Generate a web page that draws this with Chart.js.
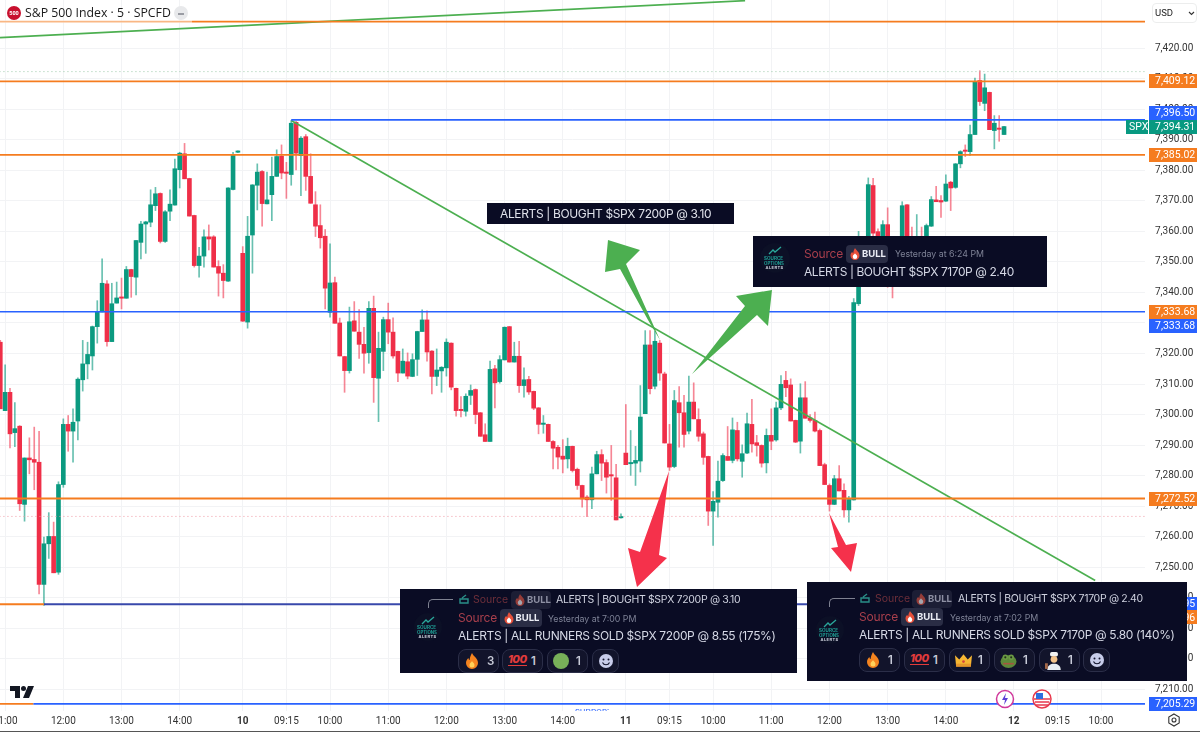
<!DOCTYPE html>
<html><head><meta charset="utf-8">
<script src="https://cdn.jsdelivr.net/npm/chart.js@4"></script>
<style>
html,body{margin:0;padding:0;background:#fff;width:1200px;height:732px;overflow:hidden;font-family:Roboto,sans-serif}
#wrap{position:relative;width:1200px;height:732px;overflow:hidden}
canvas{position:absolute;left:0;top:0}
#ov{position:absolute;left:0;top:0;width:1200px;height:732px}
#ov svg.abs{position:absolute;left:0;top:0}
.t{position:absolute;white-space:nowrap;line-height:20px;height:20px}
.box{position:absolute;box-sizing:border-box}
.c{font-family:Inter,sans-serif}
</style></head><body>
<div id="wrap"><canvas id="c" width="1200" height="731"></canvas><div id="ov"></div></div>
<script>
const open=[
7323.7,7301.3,7307.3,7294.1,7296.2,7270.6,7285.8,7285.3,7284.4,7244.4,
7257.7,7260.1,7248.4,7277.1,7296.8,7294.6,7297.9,7311.4,7316.6,7319.2,
7328.8,7333.6,7342.8,7323.9,7336.5,7338.3,7338.1,7347.5,7345,7356.4,
7362.4,7363,7368.4,7372.4,7356.7,7366.6,7368.6,7380.2,7385.4,7377.3,
7365.2,7348.8,7351.9,7358.2,7358.2,7348.5,7346.3,7343.7,7373.7,7385.9,
7352.8,7330.3,7358.8,7375.1,7379.6,7369,7372,7378,7384.6,7379.4,
7378.6,7395.7,7384.8,7391,7378,7368.7,7361.9,7358.4,7333.5,7343.2,
7330,7319,7314.4,7330.7,7327,7323,7320.3,7334.8,7311.9,7320.7,
7331.1,7327,7320.7,7313.6,7317.3,7312.5,7318.1,7327.2,7331,7320.8,
7312.5,7314.3,7315.3,7323.4,7308.6,7301.5,7301.1,7306.3,7308.2,7300.6,
7293.4,7291.2,7315,7310.8,7317.9,7328.8,7317.2,7319.1,7309.5,7311.5,
7307.6,7302.2,7296.8,7296.8,7291.2,7289.3,7286.4,7285.5,7289.6,7282.1,
7276.8,7273,7272.1,7280.6,7286.9,7284.3,7280.1,7279.3,7266.2,7287.4,
7283.9,7284.1,7284.8,7300.3,7322.8,7309.3,7323.4,7313.3,7290.4,7283,
7303.9,7300.6,7294.6,7304.1,7298.4,7293.7,7286.3,7268.4,7271.3,7278.4,
7286.3,7285,7294.8,7284.7,7287.4,7296.8,7290.8,7289.9,7284.2,7293.2,
7291.7,7302.2,7311.2,7309.7,7298.1,7291.3,7305.5,7298.9,7298.1,7294.8,
7283.6,7276.8,7270.6,7279,7275.2,7268.8,7272.1,7336.3,7349,7350.4,
7375,7359.9,7353.7,7362.2,7350.4,7346,7349.3,7368.7,7357.5,7352,
7357.5,7353.7,7361.7,7370.3,7370.1,7369.9,7376.1,7374.4,7382.1,7386.4,
7386.1,7391.7,7409.4,7401.9,7405.5,7393,7393.6,7391.7];
const high=[
7324.3,7316.3,7308.6,7303.9,7296.4,7285.8,7292.4,7295.9,7294.5,7259.9,
7267.9,7264.8,7278,7298.6,7299.7,7301.9,7312,7324.3,7323.7,7329,
7337.3,7351,7343.9,7343,7343.4,7344.7,7348.5,7347.6,7357,7363.3,
7363.3,7373.6,7374.4,7372.6,7366.8,7373.6,7383.7,7385.9,7388.8,7377.4,
7365.3,7354.8,7360.5,7362.1,7358.6,7350.4,7349.1,7374.3,7385.9,7386.4,
7355,7364.9,7375.3,7382.1,7379.9,7379.4,7384.3,7386.7,7388.3,7382.6,
7396.3,7396,7391,7391.7,7385.4,7373,7368.7,7360.6,7355.9,7345,
7331.6,7319.1,7335.2,7337,7334.4,7328.6,7337,7338.8,7327,7331.9,
7336.5,7331.7,7320.8,7321.5,7320.2,7319.9,7327.3,7334.3,7334,7321,
7321.5,7315.7,7324.8,7323.5,7308.7,7305.9,7306.8,7309.7,7308.4,7300.7,
7297,7317.5,7316.1,7319.3,7328.7,7328.9,7323.7,7324,7315.3,7312.5,
7307.7,7302.3,7299.7,7296.9,7291.5,7289.9,7291.8,7292.3,7289.7,7282.5,
7276.9,7273.5,7282.8,7288,7288.5,7285.2,7289.9,7283.7,7267.5,7303.3,
7294.8,7289.6,7309.5,7327.5,7327.5,7327.3,7324.3,7313.9,7296.8,7307.9,
7309.2,7306.3,7312.6,7310.4,7301.9,7294.3,7286.4,7274.8,7284.8,7287.2,
7296.1,7298.9,7297.5,7290.1,7300.5,7305,7293.2,7290.1,7295.3,7301.9,
7304.1,7312.8,7314.2,7311.7,7298.2,7310.1,7310.8,7300,7300.8,7295.3,
7284.1,7277.3,7280.1,7283.3,7277.3,7273.2,7338,7360,7357,7377.5,
7377.4,7360.8,7363.5,7367.7,7354.8,7355,7369.7,7368.8,7361.4,7365.5,
7361.4,7362.4,7371.4,7374.7,7371.7,7378.5,7376.4,7382.2,7386.4,7388.3,
7394.8,7410.2,7412.6,7411.5,7405.6,7397.9,7397.9,7394.4];
const low=[
7301.9,7301.3,7289.1,7289.5,7268.6,7265.1,7280.6,7275.4,7241.3,7237.5,
7252.9,7248.2,7247.7,7276.2,7288,7284.4,7291.7,7307.7,7311.7,7314.6,
7323.4,7333.6,7322.4,7323.9,7336.5,7334.6,7338.1,7338.4,7339.2,7351,
7352.8,7361.5,7366.8,7356.2,7356.4,7363.5,7368.6,7374.2,7377.2,7365,
7348.3,7345,7348.3,7353.9,7348.3,7338.8,7338.2,7343.6,7373.6,7385.8,
7330.5,7328.3,7346.3,7367,7361.7,7369,7363.5,7378,7377.2,7370.8,
7375.1,7380.1,7371.7,7373.4,7369.2,7358.3,7354.5,7334.6,7331.9,7329.9,
7319.2,7307.3,7313.6,7327.3,7318.4,7313.6,7316.8,7304,7297.7,7314.4,
7323.2,7318.5,7310.8,7313.6,7311.7,7312.4,7312.8,7327.2,7317.5,7306.8,
7309.5,7307.3,7312.6,7308.1,7299.5,7299.2,7299.5,7303.3,7297,7292.9,
7291.2,7291.2,7302.2,7310.3,7317.9,7317.2,7317.2,7307.3,7305.7,7306.6,
7301.6,7293.7,7293.9,7291.2,7282.2,7282.2,7280.9,7282.5,7281.2,7275.5,
7269.7,7266.6,7269.2,7280.6,7278.4,7274.3,7271.9,7265.5,7266.1,7283.6,
7280.1,7276.8,7281.2,7300.3,7306.8,7308.4,7311.2,7290.7,7281.7,7282.6,
7289.3,7289.3,7293.7,7298.6,7291.3,7283.7,7263.7,7257.2,7266.4,7278.1,
7285,7284.2,7284.8,7279.5,7287.2,7287.7,7286.4,7282.8,7280.9,7288.5,
7291.3,7301.6,7305.9,7297.9,7290.8,7287.4,7298.8,7297.5,7294.3,7283.3,
7277.1,7268.4,7270.5,7275,7266.4,7264.8,7272,7335.7,7346,7349,
7358.5,7351.5,7351.5,7341.7,7338.2,7345,7347.2,7349.3,7351.5,7351,
7352,7353.2,7361.6,7369.7,7364.6,7369.8,7366.8,7374.1,7380.8,7384.5,
7384.9,7391.7,7401.2,7399.5,7393.3,7387,7389.5,7391.7];
const close=[
7301.9,7307.3,7293.7,7295.4,7270.8,7285.8,7285.2,7284.4,7244.4,7257.7,
7260.1,7248.2,7277.1,7296.8,7294.6,7297.5,7311.6,7316.6,7319.7,7328.8,
7333.6,7343,7323.9,7336.3,7338.2,7338.1,7347.5,7345.2,7357,7362.4,
7363.1,7368.7,7372.3,7356.7,7366.4,7368.9,7380.5,7385.6,7377.2,7365,
7348.8,7351.9,7358.2,7357.5,7348.3,7346.3,7343.9,7374.2,7385,7386.3,
7330.6,7358.4,7375.2,7379.4,7369.1,7370.3,7378,7384.5,7379.1,7379,
7395.4,7385.6,7390.5,7378,7369.2,7361.7,7357.9,7341.4,7343.1,7329.9,
7319.2,7314.4,7330.4,7327.3,7323,7320.1,7334.8,7312.1,7321.7,7331.1,
7327,7319.2,7313.6,7317.5,7312.6,7318,7327.2,7331,7320.5,7312.5,
7314.6,7315.5,7323.7,7309,7301.3,7301.3,7306,7307.9,7300,7292.9,
7291.2,7314.8,7310.4,7318,7328.6,7317.2,7319.1,7309.5,7311.4,7307.4,
7302.1,7296.8,7297.2,7291.2,7289,7286.1,7285.4,7289.6,7281.7,7276.8,
7272.4,7272.1,7280.6,7286.9,7284.1,7279.5,7279.9,7265.5,7266.6,7283.6,
7284.1,7285,7299.2,7322.8,7308.5,7324,7313.6,7290.7,7282.8,7304.6,
7300.6,7293.5,7304.1,7298.6,7292.9,7286,7268.4,7271.6,7278.2,7286.6,
7285,7295,7285.5,7287.2,7297,7290.4,7289.9,7284.1,7293.2,7291.3,
7302.2,7309.9,7308.8,7297.9,7291,7305.5,7298.8,7298.1,7294.6,7283.3,
7277.1,7270.6,7279,7275,7268.8,7272.2,7336.7,7358.1,7356,7375.3,
7359.4,7354.8,7362.2,7352.6,7345,7352,7368.4,7351.5,7352.6,7357.5,
7353,7361.9,7370.4,7369.7,7369.6,7375.5,7374.2,7382.1,7386.1,7386.2,
7391.7,7409,7402.5,7407,7393.3,7395.4,7393.4,7394.31];

// axis ticks: position in candle units, and their text
const xTickAt=[1,13,25,37,50,59,68,80,92,104,116,129,138,147,159,171,183,195,209,218,227];
const xTickText=["11:00","12:00","13:00","14:00","10","09:15","10:00","11:00","12:00","13:00","14:00","11","09:15","10:00","11:00","12:00","13:00","14:00","12","09:15","10:00"];
const dayLabels=["10","11","12"];
const yTickValues=[7210,7220,7230,7240,7250,7260,7270,7280,7290,7300,7310,7320,7330,7340,7350,7360,7370,7380,7390,7400,7410,7420];

// horizontal levels: price, from candle, to candle
const orangeLevels=[[7428.7,-1,240],[7409.12,-1,240],[7385.02,-1,240],[7272.52,-1,240],[7237.9,-1,9],[7205.29,-1,6.8]];
const blueLevels=[[7396.5,60,240],[7333.68,-1,240],[7205.29,6.8,240]];
const indigoLevels=[[7237.9,9,240]];
const dottedGreen=[7412.3];
const dottedRed=[7266.66];
// trend lines: [candle, price]
const trendUp=[[-0.06,7423.44],[153.6,7435.55]];
const trendDown=[[60,7396.3],[225.8,7245.7]];

// right-hand labels: text, price where drawn, colour
const tagText=["7,409.12","7,396.50","7,394.31","7,385.02","7,333.68","7,333.68","7,272.52","7,237.95","7,237.96","7,205.29"];
const tagAt=[7409.12,7398.8,7394.31,7385.02,7333.68,7329.1,7272.52,7237.9,7233.6,7205.29];
const tagColor=["#f57c1f","#2962ff","#089981","#f57c1f","#f57c1f","#2962ff","#f57c1f","#2962ff","#f57c1f","#2962ff"];

const GREEN="#0b9a80",RED="#ef2f48";
const idx=open.map((_,i)=>i);
const up=idx.map(i=>close[i]>=open[i]);
const levelDs=(list,color,width)=>list.map(l=>({type:'line',data:[{x:l[1],y:l[0]},{x:l[2],y:l[0]}],borderColor:color,borderWidth:width,pointRadius:0,order:0}));

const tagPlugin={id:'tags',afterDraw(ch){
  const c=ch.ctx,y=ch.scales.y;c.save();
  c.font='10.5px Roboto';c.textBaseline='middle';
  tagText.forEach((s,i)=>{
    const py=y.getPixelForValue(tagAt[i]);
    c.fillStyle=tagColor[i];c.fillRect(1149,Math.round(py-7),48,14);
    c.fillStyle='#fff';c.textAlign='left';c.fillText(s,1155,py+0.5);
  });
  const py=y.getPixelForValue(7394.31);
  c.fillStyle='#089981';c.fillRect(1126,Math.round(py-7),22,14);
  c.fillStyle='#fff';c.fillText('SPX',1129,py+0.5);
  c.restore();
}};

new Chart(document.getElementById('c'),{
 data:{datasets:[
  {type:'bar',grouped:false,order:3,barThickness:1,data:idx.map(i=>({x:i,y:[low[i],high[i]]})),
   backgroundColor:idx.map(i=>up[i]?'rgba(11,154,128,.62)':'rgba(239,47,72,.58)')},
  {type:'bar',grouped:false,order:2,barThickness:4,minBarLength:1.3,data:idx.map(i=>({x:i,y:[open[i],close[i]]})),
   backgroundColor:idx.map(i=>up[i]?GREEN:RED)},
  ...levelDs(orangeLevels,'#f57c1f',1.8),
  ...levelDs(blueLevels,'#2962ff',1.6),
  ...levelDs(indigoLevels,'#3949ab',1.8),
  ...dottedGreen.map(p=>({type:'line',data:[{x:-1,y:p},{x:240,y:p}],borderColor:'#9cc9a8',borderWidth:1,borderDash:[1,3],pointRadius:0,order:1})),
  ...dottedRed.map(p=>({type:'line',data:[{x:-1,y:p},{x:240,y:p}],borderColor:'#ef9aa5',borderWidth:1,borderDash:[1,3],pointRadius:0,order:1})),
  {type:'line',data:trendUp.map(p=>({x:p[0],y:p[1]})),borderColor:'#4caf50',borderWidth:1.6,pointRadius:0,order:0},
  {type:'line',data:trendDown.map(p=>({x:p[0],y:p[1]})),borderColor:'#4caf50',borderWidth:1.6,pointRadius:0,order:0}
 ]},
 options:{responsive:false,animation:false,events:[],layout:{padding:0},
  plugins:{legend:{display:false},tooltip:{enabled:false}},
  scales:{
   x:{type:'linear',offset:false,min:-0.06,max:236.07,
    afterBuildTicks(s){s.ticks=xTickAt.map(v=>({value:v}))},
    afterFit(s){s.height=20;s.paddingLeft=0;s.paddingRight=0},
    grid:{offset:false,color:'#f2f3f5',lineWidth:1,drawTicks:false},border:{display:false},
    ticks:{autoSkip:false,maxRotation:0,minRotation:0,padding:4,color:'#333',
     font:c=>({family:'Roboto',size:10,weight:c.tick&&dayLabels.includes(xTickText[xTickAt.indexOf(c.tick.value)])?'bold':'normal'}),
     callback:v=>xTickText[xTickAt.indexOf(v)]}},
   y:{type:'linear',position:'right',min:7202.95,max:7435.75,
    afterBuildTicks(s){s.ticks=yTickValues.map(v=>({value:v}))},
    afterFit(s){s.width=55;s.paddingTop=0;s.paddingBottom=0},
    grid:{color:'#f2f3f5',lineWidth:1,drawTicks:false},border:{display:false},
    ticks:{autoSkip:false,padding:10,color:'#333',font:{family:'Roboto',size:10},
     callback:v=>v.toLocaleString('en-US',{minimumFractionDigits:2,maximumFractionDigits:2})}}
  }},
 plugins:[tagPlugin]
});

// ---- overlay: screenshot furniture, callout cards, arrows
const flame=(s)=>`<svg width="${s}" height="${s}" viewBox="0 0 16 16" style="position:absolute"><path d="M8 0c1 3 6 5 6 10a6 6 0 0 1-12 0c0-2 1-4 2.500-5 0 1 .5 2 1.200 2C5.700 4 7 2 8 0z" fill="#f5841f"/><path d="M8 8c.5 1.500 2.500 2 2.500 4a2.500 2.500 0 0 1-5 0c0-2 2-2.500 2.500-4z" fill="#ffd25a"/></svg>`;
const bflame=(s)=>`<svg width="${s}" height="${s}" viewBox="0 0 16 16" style="position:absolute"><path d="M8 0c1 3 6 5 6 10a6 6 0 0 1-12 0c0-2 1-4 2.500-5 0 1 .5 2 1.200 2C5.700 4 7 2 8 0z" fill="#e8503a"/><path d="M8 7c.5 1.500 3 2 3 4.500a3 3 0 0 1-6 0c0-2.500 2.500-3 3-4.500z" fill="#fff"/></svg>`;
const T=(x,y,s,size,col,extra='')=>`<div class="t c" style="left:${x}px;top:${y-10}px;font-size:${size}px;color:${col};${extra}">${s}</div>`;
const B=(x,y,w,h,st)=>`<div class="box" style="left:${x}px;top:${y}px;width:${w}px;height:${h}px;${st}"></div>`;
const badge=(x,y,w,dim)=>B(x,y-9,w,18,`background:${dim?'#1c1e35':'#2a2d45'};border-radius:4px`)+
  `<div style="position:absolute;left:${x+3}px;top:${y-6}px;opacity:${dim?.6:1}">${bflame(12)}</div>`+
  T(x+16,y,'BULL',9.5,dim?'#8e90a3':'#eceef6','font-weight:700;');
const logo=(cx,cy,r)=>B(cx-r,cy-r,2*r,2*r,'background:#0c1026;border-radius:50%')+
  `<svg class="abs" style="left:${cx-7}px;top:${cy-r+3}px;position:absolute" width="14" height="9" viewBox="0 0 14 9"><path d="M1 8 5 4l2 2 6-5" fill="none" stroke="#2aa79b" stroke-width="1.300"/></svg>`+
  T(cx-11,cy+1,'SOURCE',4.6,'#1f9c93','font-weight:700;')+T(cx-11,cy+5.5,'OPTIONS',4.4,'#1f9c93','font-weight:700;')+T(cx-9.5,cy+10,'ALERTS',4,'#cfd3de','font-weight:700;letter-spacing:.4px;');
const reply=(x0,x1,yTop,yBot)=>B(x0,yTop,x1-x0,yBot-yTop,'border-left:1.200px solid #7f8291;border-top:1.200px solid #7f8291;border-top-left-radius:5px');
const smile=`<svg width="16" height="16" viewBox="0 0 16 16" style="position:absolute"><circle cx="8" cy="8" r="7" fill="#c8cdea"/><circle cx="5.500" cy="6.500" r="1" fill="#14162e"/><circle cx="10.500" cy="6.500" r="1" fill="#14162e"/><path d="M4.500 9.500a3.800 3.800 0 0 0 7 0" stroke="#14162e" stroke-width="1.100" fill="none"/></svg>`;
const crown=`<svg width="17" height="17" viewBox="0 0 16 16" style="position:absolute"><path d="M1 13 0 3l4 4 4-5 4 5 4-4-1 10z" fill="#f7b733"/><rect x="1" y="11" width="14" height="3" fill="#e5962b"/><circle cx="8" cy="9" r="1.300" fill="#d9453c"/></svg>`;
const frog=`<svg width="17" height="17" viewBox="0 0 16 16" style="position:absolute"><ellipse cx="8" cy="9" rx="7.500" ry="6" fill="#5d8a3a"/><circle cx="5" cy="5" r="2.600" fill="#6b9b44"/><circle cx="10.500" cy="5" r="2.600" fill="#6b9b44"/><circle cx="5" cy="5" r="1" fill="#22301b"/><circle cx="10.500" cy="5" r="1" fill="#22301b"/><path d="M3 11h10" stroke="#a6553f" stroke-width="1.500"/></svg>`;
const chef=`<svg width="18" height="18" viewBox="0 0 16 16" style="position:absolute"><rect x="4.500" y="0" width="7" height="4" rx="1.500" fill="#f3f3f3"/><circle cx="8" cy="6.500" r="3" fill="#f4c38a"/><path d="M2 16c0-4 3-5.500 6-5.500s6 1.500 6 5.500z" fill="#e9edf2"/><rect x="0" y="10" width="2.500" height="5" fill="#a5694a"/></svg>`;
const hundred=`<span style="position:absolute;font:italic 800 11px/11px Inter;color:#e23b3b;border-bottom:1.500px solid #e23b3b;letter-spacing:-.5px;top:1px">100</span>`;
const greenDot=`<svg width="16" height="16" viewBox="0 0 16 16" style="position:absolute"><circle cx="8" cy="8" r="8" fill="#78b159"/></svg>`;
const pill=(x,w,y,icon,n)=>B(x,y,w,24,'background:#12142b;border:1px solid #2b2e48;border-radius:8px')+
  `<div style="position:absolute;left:${n?x+6:x+6}px;top:${y+4}px;width:18px;height:18px">${icon}</div>`+(n?T(x+29,y+12,n,11.5,'#c8cbd8','font-weight:600;'):'');
const bg='#0a0c24';
const LS='letter-spacing:-.36px;';
let h='';
// arrows
h+=`<svg class="abs" width="1200" height="732">
<polygon points="669,471 659,555 667,558 637,587 628,548 640,552" fill="#f5314b"/>
<polygon points="829,513 846,545 857,543 851,572 831,548 838,547" fill="#f5314b"/>
<polygon points="660,340 626,264 640,250 608,240 605,272 620,269 648,320" fill="#4caf50"/>
<polygon points="692,374 757,315 768,326 772,290 736,296 745,306" fill="#4caf50"/>
</svg>`;
// header
h+=B(0,19.5,192,3,'background:rgba(255,255,255,.45)');
h+=B(7,6,14,14,'background:#c8102e;border-radius:50%');
h+=`<div class="t" style="left:7px;top:3px;width:14px;text-align:center;font:700 5.5px/20px Roboto;color:#fff">500</div>`;
h+=`<div class="t" style="left:25px;top:3px;font:12.3px/20px 'Open Sans';color:#1a1a1a">S&amp;P 500 Index · 5 · SPCFD</div>`;
h+=B(174,6,14,14,'background:#e8e9eb;border-radius:50%');
h+=B(178,12.500,6,2,'background:#9a9ca3');
// USD
h+=B(1152,3,45,20,'background:#fff;border:1px solid #eceded;border-radius:4px');
h+=`<div class="t" style="left:1155px;top:3px;font:9.5px/20px Roboto;color:#222">USD</div>`;
h+=`<svg class="abs" style="left:1188px;top:11px" width="7" height="5"><path d="M1 1l2.500 2.500L6 1" fill="none" stroke="#333" stroke-width="1.100"/></svg>`;
// card 1
h+=B(487,203,247,21,'background:'+bg);
h+=T(500,213.5,'ALERTS | BOUGHT $SPX 7200P @ 3.10',12,'#dfe1ea',LS);
// card 2
h+=B(753,236,294,51,'background:'+bg);
h+=logo(775,258,15);
h+=T(804,253.5,'Source',12,'#a83f4c','letter-spacing:-.2px;')+badge(846,253.5,42)+T(895,254,'Yesterday at 6:24 PM',8.8,'#7e8296');
h+=T(804,271.5,'ALERTS | BOUGHT $SPX 7170P @ 2.40',12,'#d6d9e6','letter-spacing:-.42px;');
// card 3
h+=B(400,589,397,84,'background:'+bg);
h+=reply(428,453,599,608)+logo(428,627,14);
h+=`<svg style="position:absolute;left:459px;top:594px" width="10" height="10" viewBox="0 0 10 10"><path d="M1 9V5h8v4zM3 4l4-3" stroke="#2a8f88" stroke-width="1.400" fill="none"/></svg>`;
h+=T(473,599.5,'Source',10.5,'#6d2f3a')+badge(511,599.5,40,1)+T(556,599.5,'ALERTS | BOUGHT $SPX 7200P @ 3.10',10.5,'#cfd2df','letter-spacing:-.33px;');
h+=T(458,618,'Source',12,'#a83f4c','letter-spacing:-.2px;')+badge(499.500,618,42)+T(548,619,'Yesterday at 7:00 PM',8.8,'#7e8296');
h+=T(458,635.500,'ALERTS | ALL RUNNERS SOLD $SPX 7200P @ 8.55 (175%)',12,'#d6d9e6',LS);
h+=pill(458,41,648.500,flame(16),'3')+pill(502,41,648.500,hundred,'1')+pill(547,41,648.500,greenDot,'1')+pill(592,27,648.500,smile,'');
// card 4
h+=B(807,581.500,380,99,'background:'+bg);
h+=reply(829,855,598,607)+logo(830,630,14);
h+=`<svg style="position:absolute;left:860px;top:593px" width="10" height="10" viewBox="0 0 10 10"><path d="M1 9V5h8v4zM3 4l4-3" stroke="#2a8f88" stroke-width="1.400" fill="none"/></svg>`;
h+=T(875,598.500,'Source',10.5,'#6d2f3a')+badge(912,598.500,40,1)+T(958,598.500,'ALERTS | BOUGHT $SPX 7170P @ 2.40',10.5,'#cfd2df','letter-spacing:-.33px;');
h+=T(859,617,'Source',12,'#a83f4c','letter-spacing:-.2px;')+badge(901,617,42)+T(950,618,'Yesterday at 7:02 PM',8.8,'#7e8296');
h+=T(859,635,'ALERTS | ALL RUNNERS SOLD $SPX 7170P @ 5.80 (140%)',12,'#d6d9e6',LS);
h+=pill(859,41,648,flame(16),'1')+pill(904,41,648,hundred,'1')+pill(949,41,648,crown,'1')+pill(994,41,648,frog,'1')+pill(1039,41,648,chef,'1')+pill(1083,27,648,smile,'');
// TV logo
h+=`<svg class="abs" style="left:10px;top:686px" width="24" height="12" viewBox="0 0 24 12"><path d="M0 0h10v12H5V5H0z" fill="#131722"/><circle cx="13.500" cy="2.500" r="2.500" fill="#131722"/><path d="M18 0h6l-5 12h-6z" fill="#131722"/></svg>`;
// bottom icons
h+=`<svg class="abs" style="left:995px;top:689px" width="20" height="20"><circle cx="10" cy="10" r="8.500" fill="#fff" stroke="#d0389b" stroke-width="1.500"/><path d="M11 4 7 11h3l-1 5 4-7h-3z" fill="#5b3fd6"/></svg>`;
h+=`<svg class="abs" style="left:1032px;top:689px" width="20" height="20"><circle cx="10" cy="10" r="9" fill="#fff" stroke="#e8394d" stroke-width="1.500"/><path d="M3 13h14M4 16h12M2 10h16" stroke="#e8394d" stroke-width="1.400"/><rect x="4" y="4" width="7" height="6" fill="#2f6fdf"/></svg>`;
h+=`<div style="position:absolute;left:575px;top:707px;width:34px;height:3.500px;overflow:hidden;font:8px/10px Roboto;color:#2962ff;letter-spacing:.3px">SUPPORT</div>`;
// settings
h+=`<svg class="abs" style="left:1167px;top:713px" width="14" height="14" viewBox="0 0 14 14"><path d="M7 1l5.200 3v6L7 13l-5.200-3V4z" fill="none" stroke="#333" stroke-width="1.100"/><circle cx="7" cy="7" r="2" fill="none" stroke="#333" stroke-width="1.100"/></svg>`;
h+=B(0,731,1200,1,'background:#555');
document.getElementById('ov').innerHTML=h;
</script></body></html>
